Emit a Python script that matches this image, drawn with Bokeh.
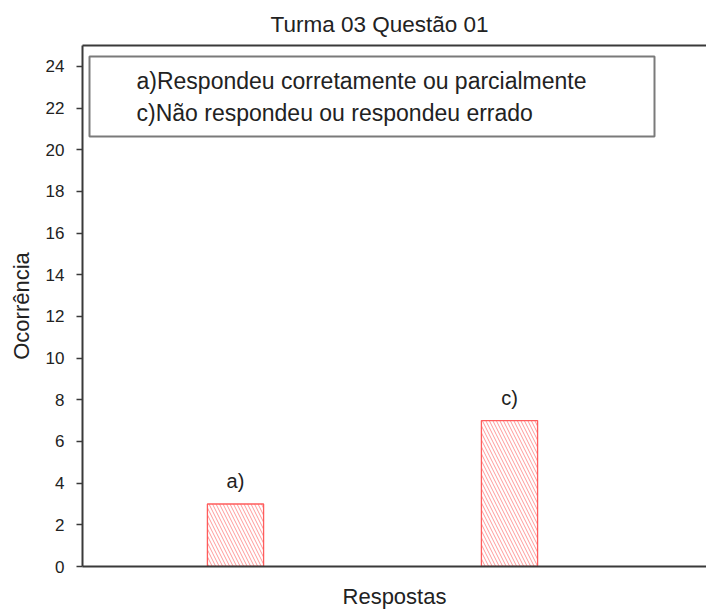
from bokeh.plotting import figure
from bokeh.models import (ColumnDataSource, Range1d, FixedTicker, LinearAxis,
                          BoxAnnotation, Label, LabelSet)
from bokeh.core.properties import value
from bokeh.embed import file_html
from bokeh.resources import INLINE

categories = ["a)", "c)"]
positions = [1, 2]
values = [3, 7]
legend_texts = ["a)Respondeu corretamente ou parcialmente",
                "c)Não respondeu ou respondeu errado"]
y_ticks = list(range(0, 25, 2))

FONT = "Liberation Sans"
TXT = "#222222"
AX = "#3a3a3a"

src = ColumnDataSource(dict(x=positions, top=values, label=categories))

p = figure(width=706, height=612, output_backend="svg", toolbar_location=None,
           x_range=Range1d(0.4416, 2.719), y_range=Range1d(0, 25),
           min_border_left=82, min_border_right=0, min_border_top=45,
           min_border_bottom=46)
p.title.text = "Turma 03 Questão 01"
p.title.align = "left"
p.title.offset = 188
p.title.standoff = 18
p.title.text_font = FONT
p.title.text_font_size = "22.5px"
p.title.text_font_style = "normal"
p.title.text_color = TXT

p.outline_line_color = None
p.xgrid.visible = False
p.ygrid.visible = False

p.vbar(x="x", top="top", width=0.205, source=src, fill_color="white",
       line_color="#ff5c5c", line_width=1.3, hatch_pattern="\\",
       hatch_color="#ff9a9a", hatch_scale=7, hatch_weight=1)

labels = LabelSet(x="x", y="top", text="label", source=src, y_offset=12,
                  text_align="center", text_baseline="bottom",
                  text_font=value(FONT), text_font_size=value("20px"),
                  text_color=TXT)
p.add_layout(labels)

ya = p.yaxis[0]
ya.ticker = FixedTicker(ticks=y_ticks)
ya.axis_label = "Ocorrência"
ya.axis_label_text_font = FONT
ya.axis_label_text_font_size = "22px"
ya.axis_label_text_font_style = "normal"
ya.axis_label_text_color = TXT
ya.major_label_text_font = FONT
ya.major_label_text_font_size = "17px"
ya.major_label_text_color = TXT
ya.major_label_standoff = 12
ya.major_tick_out = 6
ya.major_tick_in = 0
ya.minor_tick_line_color = None
ya.axis_line_width = 2
ya.axis_line_color = AX
ya.major_tick_line_color = AX
ya.major_tick_line_width = 1.5
ya.axis_label_standoff = 9

xa = p.xaxis[0]
xa.ticker = FixedTicker(ticks=[])
xa.axis_label = "Respostas"
xa.axis_label_text_font = FONT
xa.axis_label_text_font_size = "22px"
xa.axis_label_text_font_style = "normal"
xa.axis_label_text_color = TXT
xa.axis_line_width = 2
xa.axis_line_color = AX
xa.minor_tick_line_color = None
xa.axis_label_standoff = 17

top_axis = LinearAxis(ticker=FixedTicker(ticks=[]), axis_line_width=2,
                      axis_line_color=AX, minor_tick_line_color=None,
                      major_label_text_font_size="0px")
p.add_layout(top_axis, "above")

# legend box, positioned in screen pixels relative to the plot frame
box = BoxAnnotation(left=7, right=572, top=510, bottom=430,
                    left_units="screen", right_units="screen",
                    top_units="screen", bottom_units="screen",
                    fill_color=None, line_color="#7a7a7a", line_alpha=1.0,
                    line_width=2)
p.add_layout(box)

for i, t in enumerate(legend_texts):
    p.add_layout(Label(x=54, y=486 - 32 * i, x_units="screen", y_units="screen",
                       text=t, text_font=FONT, text_font_size="23px",
                       text_color=TXT, text_baseline="middle"))

open("out.html", "w").write(file_html(p, INLINE))
